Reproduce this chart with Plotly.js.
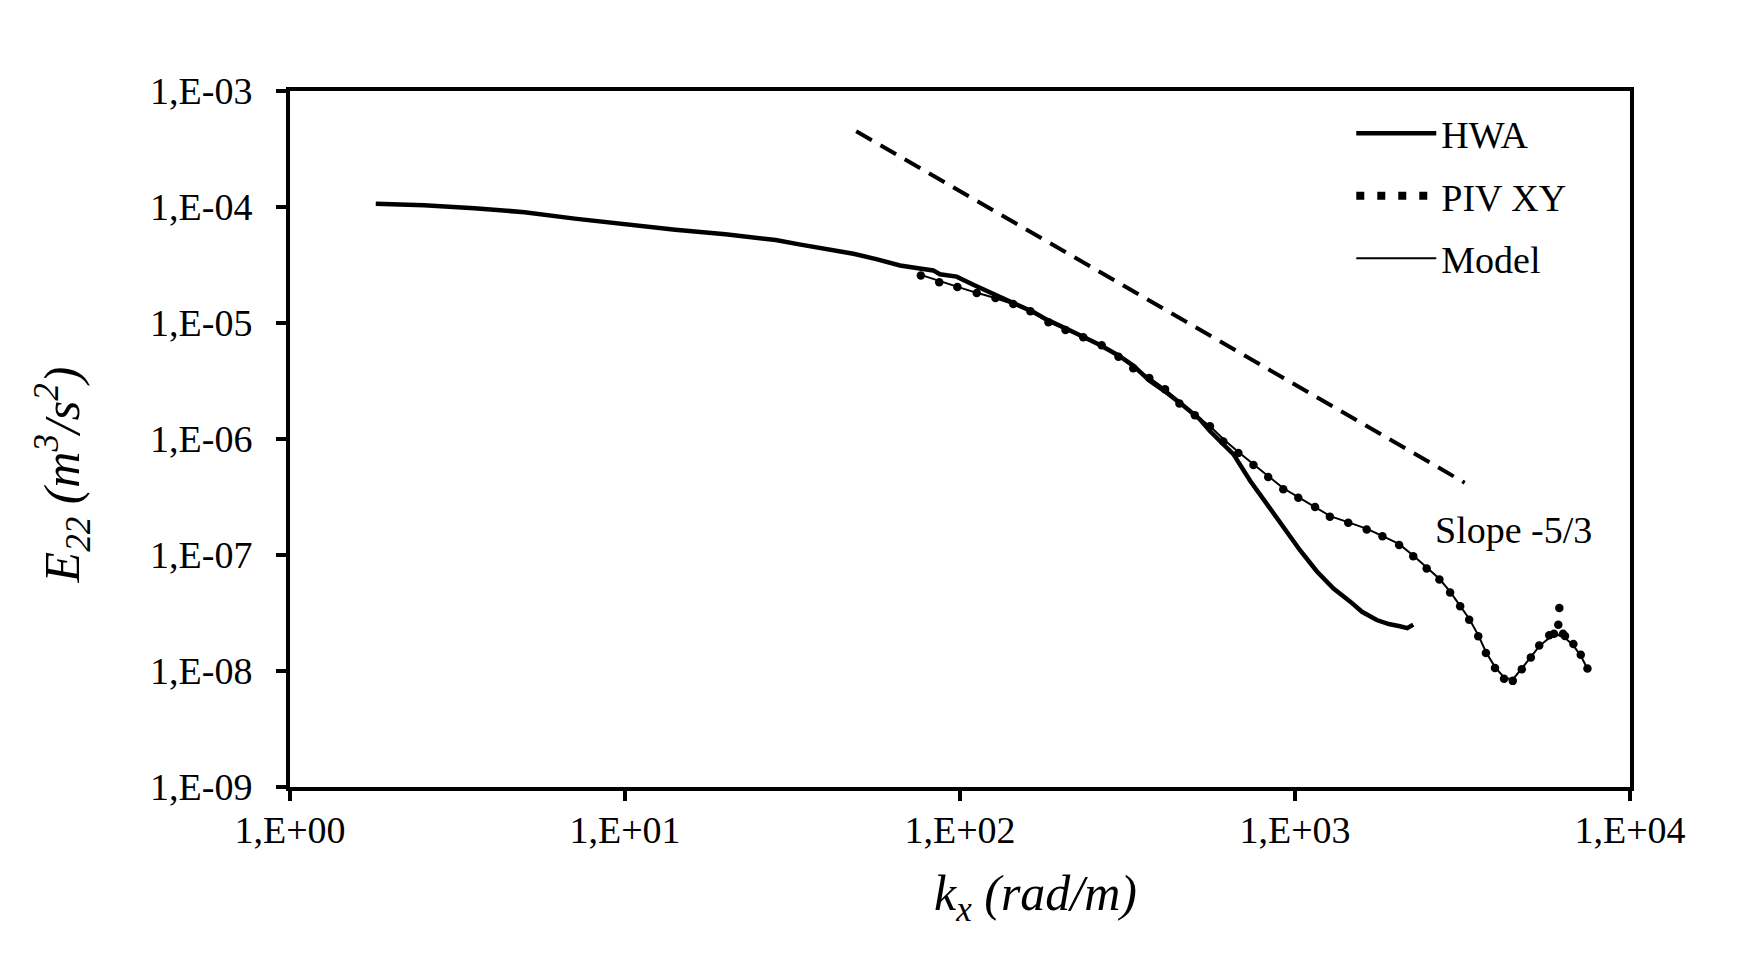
<!DOCTYPE html>
<html>
<head>
<meta charset="utf-8">
<script src="https://cdn.plot.ly/plotly-3.0.1.min.js"></script>
<style>
  html, body { margin: 0; padding: 0; background: #fff; }
  #plotDiv { width: 1743px; height: 963px; }
</style>
</head>
<body>
<div id="plotDiv"></div>
<script>
/* =========================
   Spectrum E22 vs kx
========================= */

const SERIF = 'Liberation Serif, Times New Roman, serif';

// hot-wire spectrum
const hwaK = [1.803, 2.512, 3.548, 5.012, 7.079, 10, 14.13, 19.95, 28.18, 33.11, 39.81, 48.08, 56.23,
    66.22, 75.86, 83.18, 87.1, 97.72, 109.6, 131.8, 147.6, 165.6, 181.6, 208.0, 233.3, 261.8, 297.2,
    328.9, 369.0, 414.0, 467.7, 520.0, 557.2, 616.6, 654.6, 734.5, 831.8, 922.6, 1035, 1161, 1303,
    1459, 1585, 1754, 1905, 2056, 2163, 2254];
const hwaE = [1.067e-4, 1.035e-4, 9.77e-5, 9.02e-5, 7.94e-5, 7.05e-5, 6.38e-5, 5.82e-5, 5.19e-5, 4.76e-5,
    4.37e-5, 3.95e-5, 3.55e-5, 3.13e-5, 2.95e-5, 2.84e-5, 2.63e-5, 2.51e-5, 2.14e-5, 1.70e-5, 1.445e-5,
    1.245e-5, 1.07e-5, 8.91e-6, 7.59e-6, 6.46e-6, 5.25e-6, 4.30e-6, 3.16e-6, 2.51e-6, 1.91e-6, 1.48e-6,
    1.17e-6, 8.71e-7, 7.41e-7, 4.37e-7, 2.63e-7, 1.71e-7, 1.10e-7, 7.24e-8, 5.13e-8, 3.98e-8, 3.24e-8,
    2.75e-8, 2.54e-8, 2.43e-8, 2.34e-8, 2.51e-8];

// PIV XY points
const pivK = [76.4, 86.7, 98.2, 112.2, 127.6, 144.2, 162.2, 183.7, 206.5, 233.3, 264.8, 297.2, 328.9,
    367.3, 409.3, 451.9, 502.3, 557.2, 611.0, 677.6, 751.6, 831.8, 922.6, 1023, 1148, 1271, 1442, 1637,
    1824, 2046, 2254, 2472, 2698, 2904, 3112, 3311, 3524, 3715, 3954, 4207, 4467, 4753, 5058, 5358,
    5741, 5929, 6109, 6152, 6310, 6397, 6776, 7129, 7464];
const pivE = [2.57e-5, 2.25e-5, 2.04e-5, 1.81e-5, 1.64e-5, 1.46e-5, 1.26e-5, 1.016e-5, 8.71e-6, 7.55e-6,
    6.43e-6, 5.13e-6, 4.07e-6, 3.36e-6, 2.69e-6, 2.02e-6, 1.60e-6, 1.29e-6, 9.51e-7, 7.59e-7, 5.97e-7,
    4.71e-7, 3.68e-7, 3.12e-7, 2.59e-7, 2.14e-7, 1.90e-7, 1.66e-7, 1.45e-7, 1.22e-7, 9.77e-8, 7.64e-8,
    6.14e-8, 4.76e-8, 3.61e-8, 2.77e-8, 1.99e-8, 1.43e-8, 1.06e-8, 8.57e-9, 8.22e-9, 1.035e-8, 1.31e-8,
    1.66e-8, 2.03e-8, 2.09e-8, 2.51e-8, 3.49e-8, 2.09e-8, 2.00e-8, 1.71e-8, 1.38e-8, 1.05e-8];

// model curve
const modelK = [76.4, 89.1, 100, 112.2, 125.9, 144.5, 162.2, 182.0, 206.5, 234.4, 263.0, 295.1, 331.1,
    367.3, 407.4, 451.9, 501.2, 555.9, 616.6, 676.1, 749.9, 831.8, 922.6, 1023, 1148, 1274, 1445, 1641,
    1820, 2042, 2254, 2472, 2698, 2904, 3112, 3311, 3524, 3715, 3954, 4207, 4467, 4753, 5058, 5358,
    5741, 6109, 6397, 6776, 7129, 7464];
const modelE = [2.60e-5, 2.24e-5, 2.02e-5, 1.82e-5, 1.66e-5, 1.45e-5, 1.26e-5, 1.035e-5, 8.81e-6, 7.59e-6,
    6.46e-6, 5.25e-6, 4.12e-6, 3.39e-6, 2.72e-6, 2.07e-6, 1.62e-6, 1.30e-6, 9.77e-7, 7.76e-7, 6.10e-7,
    4.79e-7, 3.76e-7, 3.16e-7, 2.60e-7, 2.16e-7, 1.91e-7, 1.68e-7, 1.46e-7, 1.245e-7, 9.89e-8, 7.76e-8,
    6.24e-8, 4.84e-8, 3.67e-8, 2.82e-8, 2.04e-8, 1.46e-8, 1.08e-8, 8.81e-9, 8.41e-9, 1.047e-8, 1.32e-8,
    1.64e-8, 1.93e-8, 2.04e-8, 1.93e-8, 1.66e-8, 1.35e-8, 1.047e-8];

// -5/3 reference line end points
const slopeK = [49, 3210];
const slopeE = [4.5e-4, 4.2e-7];

const xTickVals = [1, 10, 100, 1000, 10000];
const xTickText = ['1,E+00', '1,E+01', '1,E+02', '1,E+03', '1,E+04'];
const yTickVals = [1e-9, 1e-8, 1e-7, 1e-6, 1e-5, 1e-4, 1e-3];
const yTickText = ['1,E-09', '1,E-08', '1,E-07', '1,E-06', '1,E-05', '1,E-04', '1,E-03'];

const data = [
    {
        type: 'scatter', mode: 'lines', name: 'HWA', legendgroup: 'a',
        x: hwaK, y: hwaE,
        line: { color: '#000', width: 4.5 }
    },
    {
        // legend entry only: dotted sample
        type: 'scatter', mode: 'lines', name: 'PIV XY', legendgroup: 'b',
        x: [null], y: [null],
        line: { color: '#000', width: 8, dash: '8px,13px' }
    },
    {
        type: 'scatter', mode: 'lines', name: 'Model', legendgroup: 'c',
        x: modelK, y: modelE,
        line: { color: '#000', width: 2 }
    },
    {
        type: 'scatter', mode: 'markers', name: 'PIV XY', showlegend: false,
        x: pivK, y: pivE,
        marker: { color: '#000', size: 8.5 }
    },
    {
        type: 'scatter', mode: 'lines', name: 'Slope -5/3', showlegend: false,
        x: slopeK, y: slopeE,
        line: { color: '#000', width: 4, dash: '18px,10px' }
    }
];

const axisCommon = {
    type: 'log',
    showgrid: false,
    zeroline: false,
    showline: true,
    linecolor: '#000',
    linewidth: 4,
    mirror: true,
    ticks: 'outside',
    ticklen: 10,
    tickwidth: 4,
    tickcolor: '#000',
    tickfont: { family: SERIF, size: 38, color: '#000' }
};

const layout = {
    width: 1743,
    height: 963,
    margin: { l: 290, r: 113, t: 91, b: 176 },
    paper_bgcolor: '#fff',
    plot_bgcolor: '#fff',
    font: { family: SERIF, size: 38, color: '#000' },
    showlegend: true,
    legend: {
        x: 0.792, y: 0.984, xanchor: 'left', yanchor: 'top',
        bgcolor: 'rgba(0,0,0,0)',
        font: { family: SERIF, size: 38, color: '#000' },
        itemwidth: 80,
        tracegroupgap: 10
    },
    xaxis: {
        ...axisCommon,
        range: [0, 4],
        tickvals: xTickVals,
        ticktext: xTickText,
        ticklabelstandoff: -4
    },
    yaxis: {
        ...axisCommon,
        range: [-9, -3],
        tickvals: yTickVals,
        ticktext: yTickText,
        ticklabelstandoff: 16
    },
    annotations: [
        {
            xref: 'paper', yref: 'paper', x: 0.556, y: -0.158,
            xanchor: 'center', yanchor: 'middle', showarrow: false,
            text: '<i>k<sub>x</sub> (rad/m)</i>',
            font: { family: SERIF, size: 50, color: '#000' }
        },
        {
            xref: 'paper', yref: 'paper', x: -0.17, y: 0.448,
            xanchor: 'center', yanchor: 'middle', showarrow: false, textangle: -90,
            text: '<i>E<sub>22</sub> (m<sup>3</sup>/s<sup>2</sup>)</i>',
            font: { family: SERIF, size: 50, color: '#000' }
        },
        {
            xref: 'paper', yref: 'paper', x: 0.913, y: 0.369,
            xanchor: 'center', yanchor: 'middle', showarrow: false,
            text: 'Slope -5/3',
            font: { family: SERIF, size: 38, color: '#000' }
        }
    ],
    hovermode: false
};

Plotly.newPlot('plotDiv', data, layout, { displayModeBar: false, staticPlot: true });
</script>
</body>
</html>
